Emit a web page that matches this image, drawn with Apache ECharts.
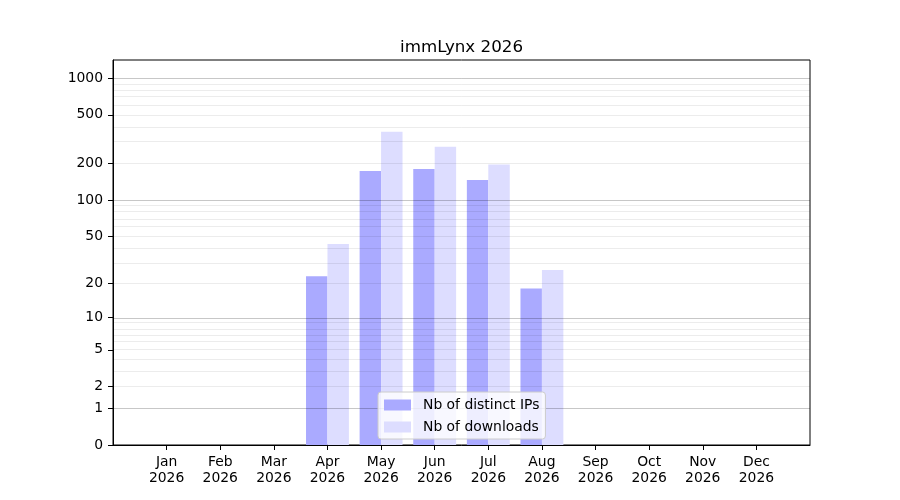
<!DOCTYPE html>
<html>
<head>
<meta charset="utf-8">
<script src="https://cdn.jsdelivr.net/npm/echarts@6/dist/echarts.min.js"></script>
<style>html,body{margin:0;padding:0;background:#fff}#c{width:900px;height:500px}</style>
</head>
<body>
<div id="c"></div>
<script>
const months = ['Jan','Feb','Mar','Apr','May','Jun','Jul','Aug','Sep','Oct','Nov','Dec'];
const year = '2026';
const distinctIPs = [0, 0, 0, 23, 173, 180, 146, 18, 0, 0, 0, 0];
const downloads = [0, 0, 0, 43, 363, 274, 196, 26, 0, 0, 0, 0];
const yTickLabels = [0, 1, 2, 5, 10, 20, 50, 100, 200, 500, 1000];
const majorGrid = [1, 10, 100, 1000];
const minorGrid = [2,3,4,5,6,7,8,9,20,30,40,50,60,70,80,90,200,300,400,500,600,700,800,900];
const yMaxValue = 1406;

const f = v => Math.log10(v + 1);
const cats = [''].concat(months.map(m => m + '\n' + year)).concat(['']);
const pad = arr => [null].concat(arr.map(f)).concat([null]);
const font = 'DejaVu Sans';

const gridLines = majorGrid.map(v => ({yAxis: f(v), lineStyle: {color: 'rgba(0,0,0,0.22)', width: 1, type: 'solid'}}))
  .concat(minorGrid.map(v => ({yAxis: f(v), lineStyle: {color: 'rgba(0,0,0,0.075)', width: 1, type: 'solid'}})));

const chart = echarts.init(document.getElementById('c'));
chart.setOption({
  animation: false,
  title: {
    text: 'immLynx 2026', left: 456.5, top: 34, textAlign: 'center',
    textStyle: {fontFamily: font, fontSize: 16.7, fontWeight: 'normal', color: '#000'}
  },
  grid: {left: 113, right: 90, top: 60, bottom: 55, show: true, borderColor: '#000', borderWidth: 1, backgroundColor: 'transparent'},
  legend: {
    orient: 'vertical', left: 378, top: 392,
    padding: [6, 6, 5, 6], itemGap: 8, itemWidth: 27, itemHeight: 11,
    backgroundColor: 'rgba(255,255,255,0.8)', borderColor: '#cccccc', borderWidth: 1, borderRadius: 3,
    icon: 'rect',
    textStyle: {fontFamily: font, fontSize: 13.9, color: '#000', padding: [0, 0, 0, 7]},
    data: ['Nb of distinct IPs', 'Nb of downloads']
  },
  xAxis: {
    type: 'category', data: cats, boundaryGap: false,
    axisLine: {lineStyle: {color: '#000', width: 1}},
    axisTick: {show: true, length: 5, interval: (i, v) => v !== '', lineStyle: {color: '#000'}},
    axisLabel: {interval: 0, margin: 9, fontFamily: font, fontSize: 13.9, color: '#000', lineHeight: 16},
    splitLine: {show: false}
  },
  yAxis: {
    type: 'value', min: 0, max: f(yMaxValue),
    axisLine: {show: true, lineStyle: {color: '#000', width: 1}},
    axisTick: {show: true, length: 5, customValues: yTickLabels.map(f), lineStyle: {color: '#000'}},
    axisLabel: {
      customValues: yTickLabels.map(f), margin: 10, fontFamily: font, fontSize: 13.9, color: '#000',
      formatter: v => String(Math.round(Math.pow(10, v) - 1))
    },
    splitLine: {show: false}
  },
  series: [
    {
      name: 'Nb of distinct IPs', type: 'bar', data: pad(distinctIPs),
      barWidth: '40%', barGap: '0%', itemStyle: {color: '#aaaaff'}, z: 2
    },
    {
      name: 'Nb of downloads', type: 'bar', data: pad(downloads),
      barWidth: '40%', barGap: '0%', itemStyle: {color: '#ddddff'}, z: 2,
      markLine: {silent: true, symbol: 'none', label: {show: false}, z: 3, data: gridLines, animation: false}
    }
  ]
});
</script>
</body>
</html>
